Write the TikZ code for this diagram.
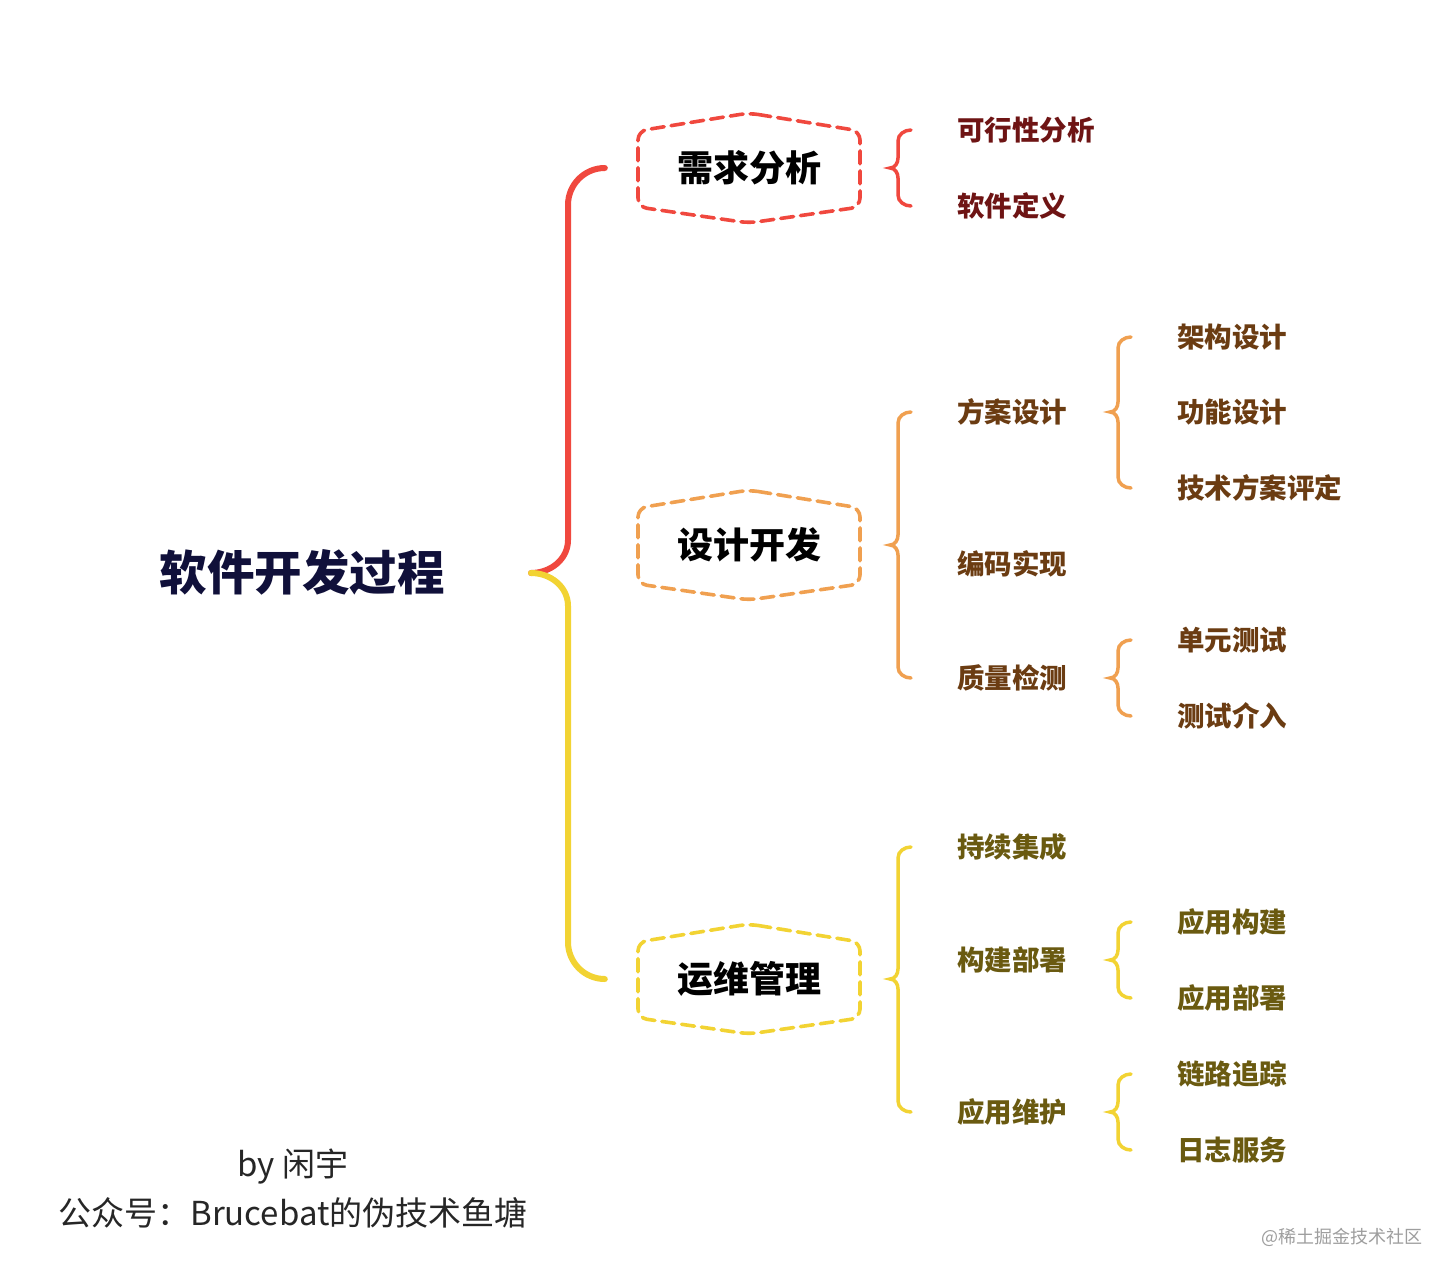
\documentclass[tikz,border=0pt]{standalone}
\usepackage{fontspec}
\newfontfamily\cjk{Noto Sans CJK SC}
\definecolor{cred}{HTML}{F0483E}
\definecolor{corange}{HTML}{F0A050}
\definecolor{cyellow}{HTML}{F2D333}
\definecolor{tred}{HTML}{6E1414}
\definecolor{torange}{HTML}{6B3C12}
\definecolor{tyellow}{HTML}{6A5A10}
\definecolor{ttitle}{HTML}{10103A}
\newcommand\mybrace[7]{\draw[#1] (#2,#5) to[out=180,in=90] (#3,#5+11) -- (#3,#6-10) to[out=-90,in=0] (#4,#6) to[out=0,in=90] (#3,#6+10) -- (#3,#7-11) to[out=-90,in=180] (#2,#7);}
\newcommand\hexa[2]{\draw[hexline,#2] ([shift={(0,-55)}]#1.center) -- ([shift={(111,-37)}]#1.center) -- ([shift={(111,39)}]#1.center) -- ([shift={(0,55)}]#1.center) -- ([shift={(-111,39)}]#1.center) -- ([shift={(-111,-37)}]#1.center) -- cycle;}
\begin{document}
\begin{tikzpicture}[x=1pt,y=-1pt,
  titlet/.style={font=\cjk\bfseries\fontsize{47.5}{56}\selectfont, text=ttitle, inner sep=0},
  hexn/.style={font=\cjk\bfseries\fontsize{36}{42}\selectfont, text=black, minimum width=222, minimum height=110, inner sep=0},
  leaf/.style={anchor=west, font=\cjk\bfseries\fontsize{27.5}{33}\selectfont, inner sep=0},
  hexline/.style={line width=3.6, dash pattern=on 13 off 7, rounded corners=9, line cap=round},
  sb/.style={line width=3.5, line cap=round},
  mb/.style={line width=6, line cap=round},
  foot/.style={font=\cjk\fontsize{33}{38}\selectfont, text=black!85, inner sep=0}]
\useasboundingbox[fill=white] (0,0) rectangle (1456,1280);

% root
\node[titlet] (root) at (302,572) {软件开发过程};
\coordinate (rtip) at (531,573);

% level 1 nodes
\node[hexn] (n1) at (749,168) {需求分析};
\node[hexn] (n2) at (749,545) {设计开发};
\node[hexn] (n3) at (749,979) {运维管理};
\hexa{n1}{cred}
\hexa{n2}{corange}
\hexa{n3}{cyellow}

% main brace
\draw[mb,cred] ([xshift=-33]n1.west) to[out=180,in=90] (568,205) -- (568,540) to[out=-90,in=0] (rtip);
\draw[mb,cyellow] (rtip) to[out=0,in=90] (568,606) -- (568,942) to[out=-90,in=180] ([xshift=-33]n3.west);

% red branch
\node[leaf,text=tred] (a1) at (957,130) {可行性分析};
\node[leaf,text=tred] (a2) at (957,206) {软件定义};
\mybrace{sb,cred}{911}{898}{890}{130}{168}{206}

% orange branch
\node[leaf,text=torange] (b1) at (957,412) {方案设计};
\node[leaf,text=torange] (b2) at (957,564) {编码实现};
\node[leaf,text=torange] (b3) at (957,678) {质量检测};
\mybrace{sb,corange}{911}{898}{890}{412}{545}{678}
\node[leaf,text=torange] (b11) at (1177,337) {架构设计};
\node[leaf,text=torange] (b12) at (1177,412) {功能设计};
\node[leaf,text=torange] (b13) at (1177,488) {技术方案评定};
\mybrace{sb,corange}{1131}{1118}{1110}{337}{412}{488}
\node[leaf,text=torange] (b31) at (1177,640) {单元测试};
\node[leaf,text=torange] (b32) at (1177,716) {测试介入};
\mybrace{sb,corange}{1131}{1118}{1110}{640}{678}{716}

% yellow branch
\node[leaf,text=tyellow] (c1) at (957,847) {持续集成};
\node[leaf,text=tyellow] (c2) at (957,960) {构建部署};
\node[leaf,text=tyellow] (c3) at (957,1112) {应用维护};
\mybrace{sb,cyellow}{911}{898}{890}{847}{979}{1112}
\node[leaf,text=tyellow] (c21) at (1177,922) {应用构建};
\node[leaf,text=tyellow] (c22) at (1177,998) {应用部署};
\mybrace{sb,cyellow}{1131}{1118}{1110}{922}{960}{998}
\node[leaf,text=tyellow] (c31) at (1177,1074) {链路追踪};
\node[leaf,text=tyellow] (c32) at (1177,1150) {日志服务};
\mybrace{sb,cyellow}{1131}{1118}{1110}{1074}{1112}{1150}

% footer
\node[foot] (by) at (293,1167) {by 闲宇};
\node[foot] (gzh) at (293,1213) {公众号：Brucebat的伪技术鱼塘};
\node[font=\cjk\fontsize{18}{22}\selectfont, text=black!38, anchor=east, inner sep=0] (wm) at (1423,1237) {@稀土掘金技术社区};
\end{tikzpicture}
\end{document}
